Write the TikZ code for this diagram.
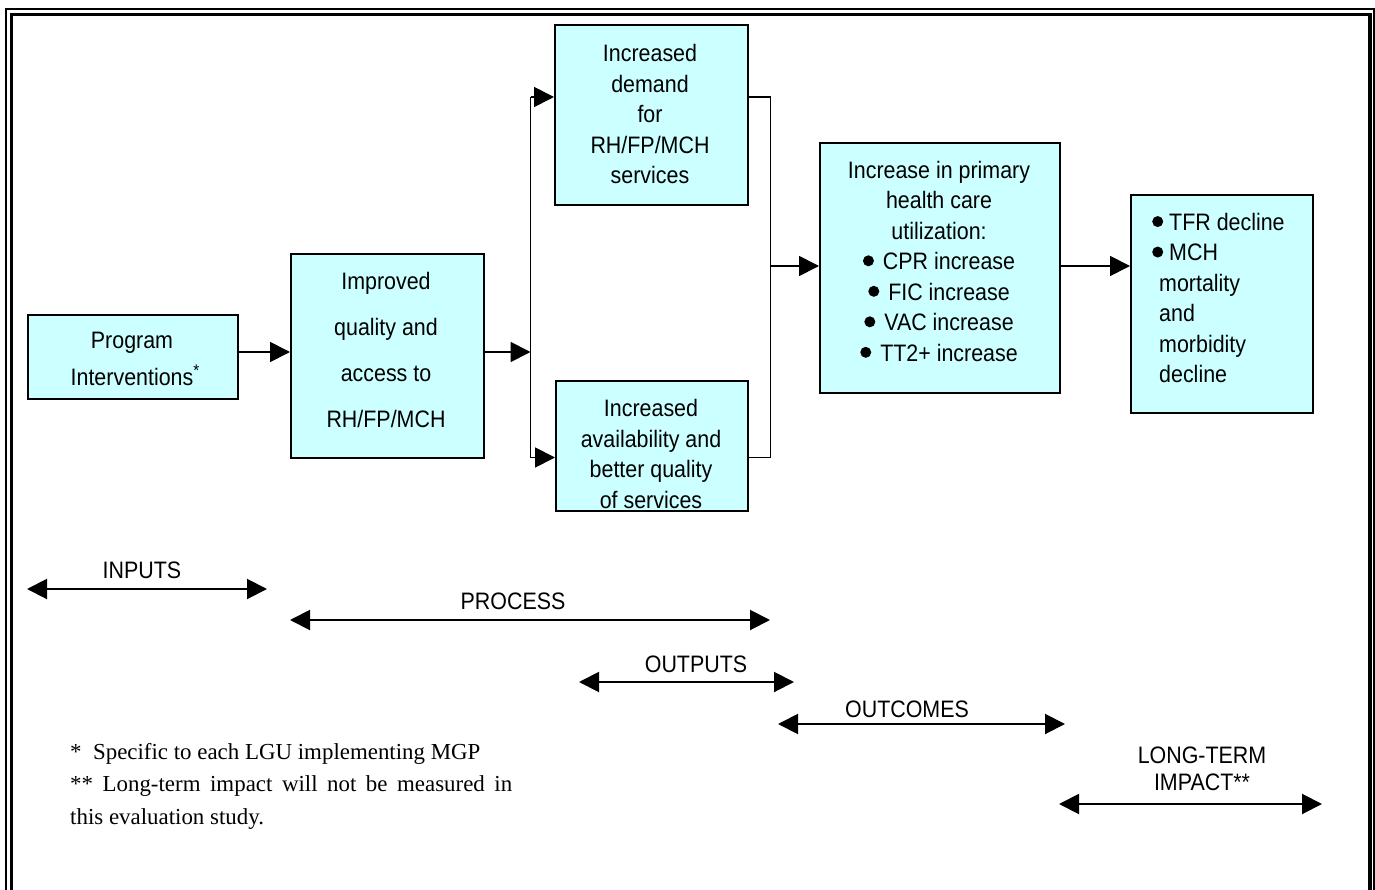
\documentclass[tikz,border=0pt]{standalone}
\usepackage{fontspec}
\setmainfont{Liberation Sans}[FakeStretch=0.9]
\newfontfamily\footserif{Liberation Serif}
\usetikzlibrary{arrows.meta}
\definecolor{boxfill}{RGB}{204,255,255}
\newcommand\bul{\raisebox{3.2pt}{\tikz[x=1pt,y=1pt]\fill (0,0) circle[radius=5.5pt];}}
\begin{document}
\begin{tikzpicture}[x=1pt,y=-1pt,
  box/.style={draw, line width=1.8pt, fill=boxfill, inner sep=0pt, anchor=north west},
  txt/.style={align=center, inner sep=0pt, font=\fontsize{23.8}{30.5}\selectfont},
  conn/.style={line width=1.8pt},
  arr/.style={line width=1.8pt, -{Triangle[length=20pt,width=20pt]}},
  span/.style={line width=2pt, {Triangle[length=20pt,width=20pt]}-{Triangle[length=20pt,width=20pt]}},
  lbl/.style={inner sep=0pt, font=\fontsize{23.8}{27}\selectfont, align=center}]
\useasboundingbox (0,0) rectangle (1375,890);
% frame
\draw[line width=1.6pt] (5.8,8.8) rectangle (1373.8,920);
\draw[line width=3.4pt] (11.3,14.3) rectangle (1370,920);
% boxes
\node[box, minimum width=210pt, minimum height=84pt] (prog) at (27,314) {};
\node[box, minimum width=193pt, minimum height=204pt] (impr) at (290,253) {};
\node[box, minimum width=193pt, minimum height=180pt] (dem) at (554,24) {};
\node[box, minimum width=192pt, minimum height=130pt] (avail) at (555,380) {};
\node[box, minimum width=240pt, minimum height=250pt] (prim) at (819,142) {};
\node[box, minimum width=182pt, minimum height=218pt] (tfr) at (1130,194) {};
% box texts
\node[txt, font=\fontsize{23.8}{37}\selectfont] (progt) at (132,359) {Program\\Interventions\rlap{\raisebox{9pt}{\fontsize{17}{17}\selectfont *}}};
\node[txt, font=\fontsize{23.8}{45.7}\selectfont] (imprt) at (386,350) {Improved\\quality and\\access to\\RH/FP/MCH};
\node[txt] (demt) at (650,114) {Increased\\demand\\for\\RH/FP/MCH\\services};
\node[txt] (availt) at (651,454) {Increased\\availability and\\better quality\\of services};
\node[txt] (primt) at (939,261) {Increase in primary\\health care\\utilization:\\\bul\hspace{9pt}CPR increase\\\bul\hspace{9pt}FIC increase\\\bul\hspace{9pt}VAC increase\\\bul\hspace{9pt}TT2+ increase};
\node[txt, align=left, anchor=west] (tfrt) at (1152,298) {\bul\hspace{6pt}TFR decline\\\bul\hspace{6pt}MCH\\\hspace{7pt}mortality\\\hspace{7pt}and\\\hspace{7pt}morbidity\\\hspace{7pt}decline};
% connectors
\coordinate (fk) at (530.5,352);
\coordinate (fkt) at (530.5,97);
\coordinate (fkb) at (530.5,457.5);
\coordinate (jn) at (770.5,266);
\coordinate (jnt) at (770.5,97);
\coordinate (jnb) at (770.5,457.5);
\draw[arr] (prog.east |- fk) -- (impr.west |- fk);
\draw[arr] (impr.east |- fk) -- (fk);
\draw[conn] (fkt) -- (fkb);
\draw[arr] (fkt) -- (dem.west |- fkt);
\draw[arr] (fkb) -- (avail.west |- fkb);
\draw[conn] (dem.east |- jnt) -- (jnt) -- (jnb) -- (avail.east |- jnb);
\draw[arr] (jn) -- (prim.west |- jn);
\draw[arr] (prim.east |- jn) -- (tfr.west |- jn);
% span arrows
\coordinate (inL) at (27,589);   \coordinate (inR) at (267,589);
\coordinate (prL) at (290,620);  \coordinate (prR) at (770,620);
\coordinate (ouL) at (579,682);  \coordinate (ouR) at (794,682);
\coordinate (ocL) at (778,724);  \coordinate (ocR) at (1065,724);
\coordinate (ltL) at (1059,804); \coordinate (ltR) at (1322,804);
\draw[span] (inL) -- (inR);
\draw[span] (prL) -- (prR);
\draw[span] (ouL) -- (ouR);
\draw[span] (ocL) -- (ocR);
\draw[span] (ltL) -- (ltR);
\node[lbl] (inlab) at (142,570) {INPUTS};
\node[lbl] (prlab) at (513,601) {PROCESS};
\node[lbl] (oulab) at (696,664) {OUTPUTS};
\node[lbl] (oclab) at (907,709) {OUTCOMES};
\node[lbl] (ltlab) at (1202,769) {LONG-TERM\\IMPACT**};
% footnote
\node[anchor=north west, inner sep=0pt, text width=442pt, align=justify, font=\footserif\fontsize{22.9}{32.5}\selectfont] (foot) at (70,743)
 {*\ \ Specific to each LGU implementing MGP\\{}** Long-term impact will not be measured in\linebreak this evaluation study.};
\end{tikzpicture}
\end{document}
